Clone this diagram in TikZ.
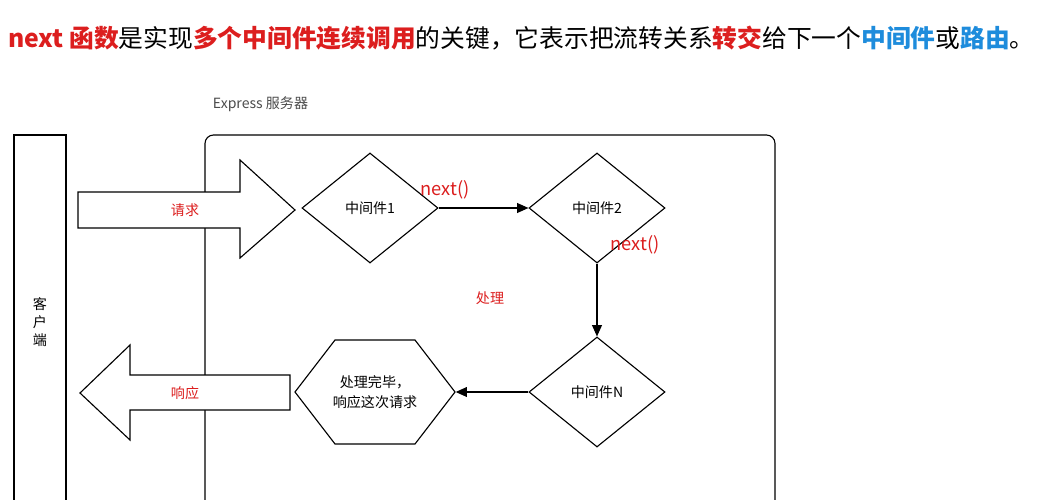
\documentclass[tikz,border=0pt]{standalone}
\usepackage{fontspec}
\setmainfont{Noto Sans CJK SC}
\usetikzlibrary{positioning,shapes.geometric,arrows.meta}
\definecolor{hlred}{RGB}{220,30,30}
\definecolor{hlblue}{RGB}{30,140,220}
\tikzset{
  midbox/.style={diamond, draw, thick, minimum width=3.4cm, minimum height=2.75cm, inner sep=0pt, font=\fontsize{10}{12}\selectfont},
  redlbl/.style={text=hlred, font=\fontsize{10}{12}\selectfont},
  nextlbl/.style={text=hlred, font=\fontsize{13}{15}\selectfont},
  flow/.style={-{Triangle[length=8pt,width=7pt]}, thick}
}
\newcommand{\hl}[2]{\textcolor{#1}{\bfseries #2}}
\begin{document}
\begin{tikzpicture}[x=0.025cm, y=-0.025cm]
\useasboundingbox (0,0) rectangle (1047,500);
\fill[white] (0,0) rectangle (1047,500);
% title
\node[anchor=west, font=\fontsize{17.6}{20}\selectfont, inner sep=0pt] (title) at (8,38)
  {\hl{hlred}{next 函数}是实现\hl{hlred}{多个中间件连续调用}的关键，它表示把流转关系\hl{hlred}{转交}给下一个\hl{hlblue}{中间件}或\hl{hlblue}{路由}。};
\node[anchor=west, text=black!70, font=\fontsize{10}{12}\selectfont] (srvlbl) at (208,104) {Express 服务器};
% client and server
\draw[thick] (14,502) -- (14,135) -- (66,135) -- (66,502);
\node[align=center, font=\fontsize{10}{13}\selectfont] (client) at (40,322) {客\\户\\端};
\draw[thick, rounded corners=6pt] (205,502) -- (205,135) -- (775,135) -- (775,502);
% request / response block arrows
\draw[thick, fill=white] (78,192) -- (240,192) -- (240,160) -- (295,210) -- (240,258) -- (240,228) -- (78,228) -- cycle;
\node[redlbl] (req) at (185,210) {请求};
\draw[thick, fill=white] (290,375) -- (130,375) -- (130,345) -- (80,393) -- (130,440) -- (130,410) -- (290,410) -- cycle;
\node[redlbl] (resp) at (185,393) {响应};
% middleware
\node[midbox] (m1) at (370,208) {中间件1};
\node[midbox] (m2) at (597,208) {中间件2};
\node[midbox] (mn) at (597,392) {中间件N};
\node[regular polygon, regular polygon sides=6, draw, thick, minimum size=4cm, inner sep=0pt, yscale=0.75] (done) at (375,392) {};
\node[align=center, font=\fontsize{10}{14}\selectfont] (donetxt) at (done.center) {处理完毕，\\响应这次请求};
\draw[flow] (m1) -- (m2);
\draw[flow] (m2) -- (mn);
\draw[flow] (mn) -- (done);
\node[nextlbl] (n1) at (445,190) {next()};
\node[nextlbl] (n2) at (635,245) {next()};
\node[redlbl] (proc) at (490,298) {处理};
\end{tikzpicture}
\end{document}
